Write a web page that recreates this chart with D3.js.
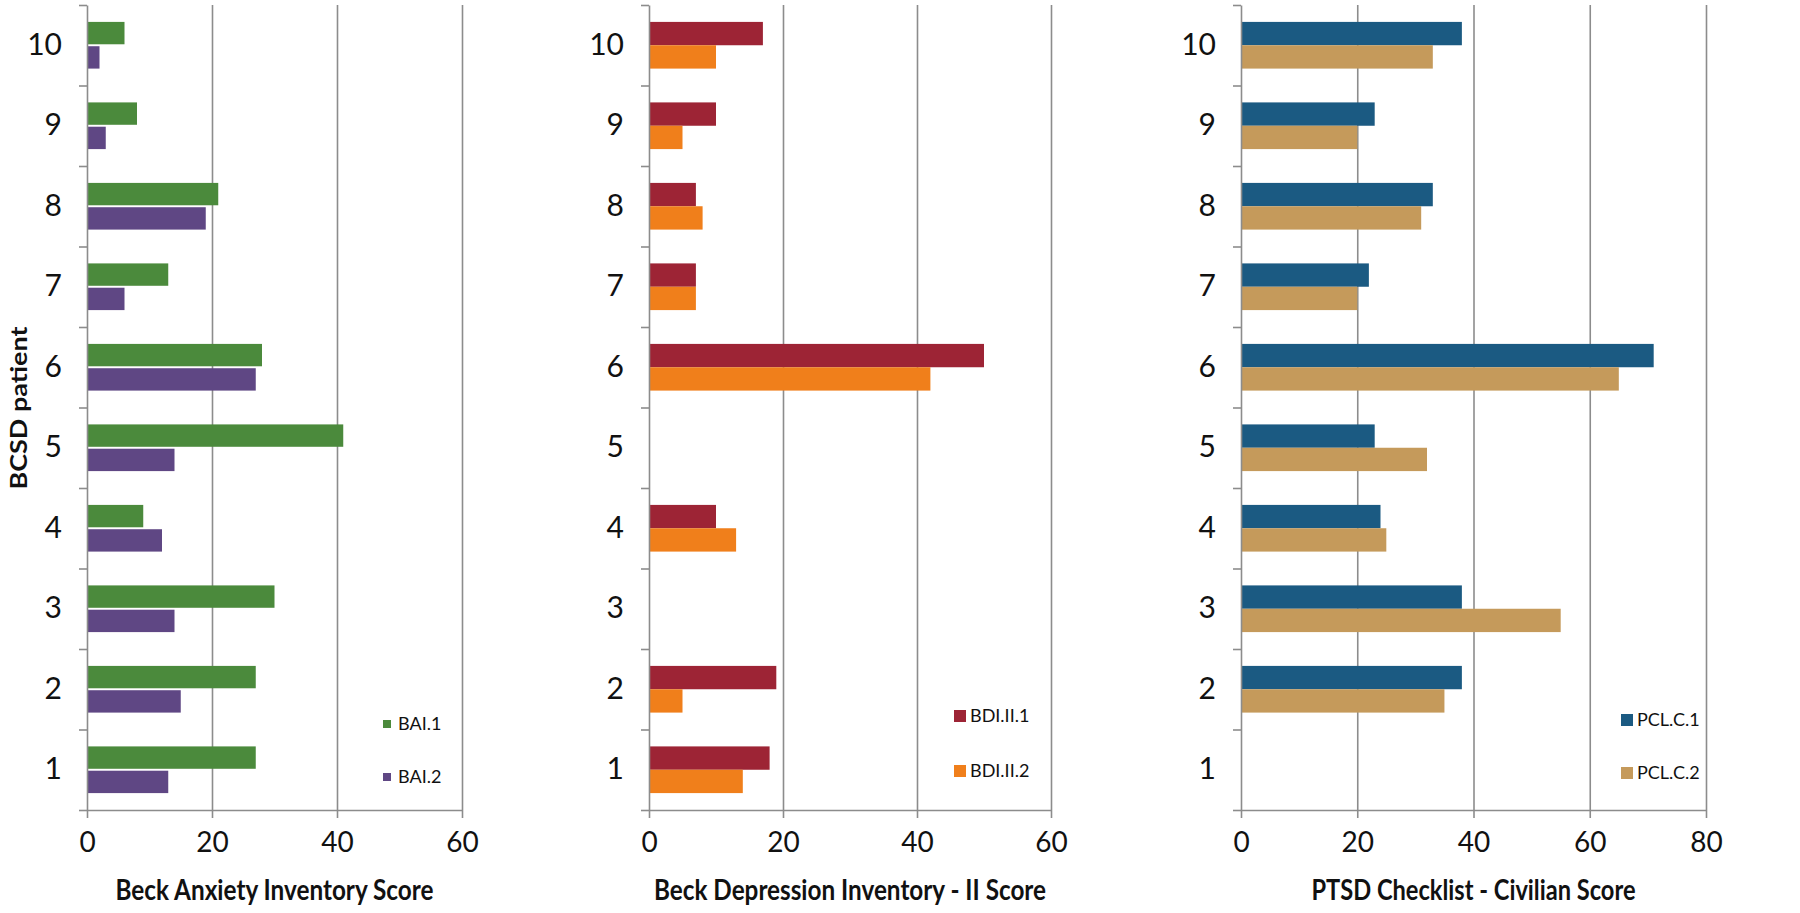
<!DOCTYPE html>
<html>
<head>
<meta charset="utf-8">
<script src="https://cdn.jsdelivr.net/npm/d3@7"></script>
<style>
	body { margin: 0; background: #fff; }
	svg { display: block; }
	text { font-family: Lato, "Open Sans", sans-serif; fill: #111; }
</style>
</head>
<body>
<svg id="chart" width="1800" height="913"></svg>
<script>
// patients 1..10 (drawn with 10 on top)
const patients = [1, 2, 3, 4, 5, 6, 7, 8, 9, 10];

const bai1 = [27, 27, 30, 9, 41, 28, 13, 21, 8, 6];
const bai2 = [13, 15, 14, 12, 14, 27, 6, 19, 3, 2];

const bdi1 = [18, 19, null, 10, null, 50, 7, 7, 10, 17];
const bdi2 = [14, 5, null, 13, null, 42, 7, 8, 5, 10];

const pcl1 = [null, 38, 38, 24, 23, 71, 22, 33, 23, 38];
const pcl2 = [null, 35, 55, 25, 32, 65, 20, 31, 20, 33];

const baiTicks = [0, 20, 40, 60];
const bdiTicks = [0, 20, 40, 60];
const pclTicks = [0, 20, 40, 60, 80];

const baiNames = ["BAI.1", "BAI.2"];
const bdiNames = ["BDI.II.1", "BDI.II.2"];
const pclNames = ["PCL.C.1", "PCL.C.2"];

const TOP = 5, BOTTOM = 810;

const panels = [
	{ x0: 87, x1: 462, ticks: baiTicks, series: [bai1, bai2], names: baiNames,
	  colors: ["#4b8a3c", "#5f4784"], gap: 0.08,
	  title: "Beck Anxiety Inventory Score", titleW: 318,
	  legend: { x: 383, y: [724, 777], size: 8 } },
	{ x0: 649, x1: 1051, ticks: bdiTicks, series: [bdi1, bdi2], names: bdiNames,
	  colors: ["#9d2435", "#f07f1b"], gap: 0,
	  title: "Beck Depression Inventory - II Score", titleW: 392,
	  legend: { x: 954, y: [716, 771], size: 12 } },
	{ x0: 1241, x1: 1706, ticks: pclTicks, series: [pcl1, pcl2], names: pclNames,
	  colors: ["#1b5a82", "#c59a5b"], gap: 0,
	  title: "PTSD Checklist - Civilian Score", titleW: 324,
	  legend: { x: 1621, y: [720, 773], size: 12 } }
];

const svg = d3.select("#chart");

function drawPanel(p) {
	const g = svg.append("g");

	const x = d3.scaleLinear()
		.domain([0, p.ticks[p.ticks.length - 1]])
		.range([p.x0, p.x1]);

	const y = d3.scaleBand()
		.domain(patients.slice().reverse())
		.range([TOP, BOTTOM])
		.paddingInner(0.42)
		.paddingOuter(0.21);

	// boundary ticks between categories
	const yEdge = d3.scaleLinear().domain([0.5, 10.5]).range([BOTTOM, TOP]);

	const sub = d3.scaleBand()
		.domain([0, 1])
		.range([0, y.bandwidth()])
		.paddingInner(p.gap);

	// gridlines
	g.append("g")
		.attr("transform", `translate(0, ${BOTTOM})`)
		.call(d3.axisBottom(x).tickValues(p.ticks.slice(1)).tickSize(-(BOTTOM - TOP)).tickFormat(""))
		.call(a => a.select(".domain").remove())
		.selectAll("line")
		.attr("stroke", "#8c8c8c")
		.attr("stroke-width", 1.6);

	// bars
	p.series.forEach((vals, s) => {
		g.append("g").selectAll("rect")
			.data(patients.map((pt, i) => ({ pt: pt, v: vals[i] })).filter(d => d.v != null))
			.enter().append("rect")
			.attr("x", x(0))
			.attr("y", d => y(d.pt) + sub(s))
			.attr("width", d => x(d.v) - x(0))
			.attr("height", sub.bandwidth())
			.attr("fill", p.colors[s]);
	});

	// left axis: boundary ticks
	g.append("g")
		.attr("transform", `translate(${p.x0}, 0)`)
		.call(d3.axisLeft(yEdge).tickValues(d3.range(0.5, 11, 1)).tickSize(8).tickSizeOuter(0).tickFormat(""))
		.call(a => a.selectAll("path, line").attr("stroke", "#8c8c8c").attr("stroke-width", 1.6));

	// left axis: patient labels
	g.append("g")
		.attr("transform", `translate(${p.x0}, 0)`)
		.call(d3.axisLeft(y).tickSize(0).tickPadding(25))
		.call(a => a.select(".domain").remove())
		.selectAll("text")
		.attr("font-size", 30)
		.attr("font-family", "Lato, sans-serif")
		.attr("fill", "#111");

	// bottom axis
	g.append("g")
		.attr("transform", `translate(0, ${BOTTOM})`)
		.call(d3.axisBottom(x).tickValues(p.ticks).tickSize(8).tickSizeOuter(0).tickPadding(14))
		.call(a => a.selectAll("path, line").attr("stroke", "#8c8c8c").attr("stroke-width", 1.6))
		.selectAll("text")
		.attr("font-size", 28)
		.attr("font-family", "Lato, sans-serif")
		.attr("fill", "#111");

	// axis title
	g.append("text")
		.attr("x", (p.x0 + p.x1) / 2)
		.attr("y", 900)
		.attr("text-anchor", "middle")
		.attr("font-size", 28)
		.attr("font-weight", "bold")
		.attr("textLength", p.titleW)
		.attr("lengthAdjust", "spacingAndGlyphs")
		.text(p.title);

	// legend
	p.names.forEach((name, s) => {
		const ly = p.legend.y[s];
		g.append("rect")
			.attr("x", p.legend.x)
			.attr("y", ly - p.legend.size / 2)
			.attr("width", p.legend.size)
			.attr("height", p.legend.size)
			.attr("fill", p.colors[s]);
		g.append("text")
			.attr("x", p.legend.x + (p.legend.size === 8 ? 15 : 16))
			.attr("y", ly + 6)
			.attr("font-size", 18)
			.attr("fill", "#333")
			.text(name);
	});
}

panels.forEach(drawPanel);

// y axis title
svg.append("text")
	.attr("transform", "translate(27, 408) rotate(-90)")
	.attr("text-anchor", "middle")
	.attr("font-size", 23)
	.attr("font-weight", "bold")
	.attr("textLength", 163)
	.attr("lengthAdjust", "spacingAndGlyphs")
	.text("BCSD patient");
</script>
</body>
</html>
